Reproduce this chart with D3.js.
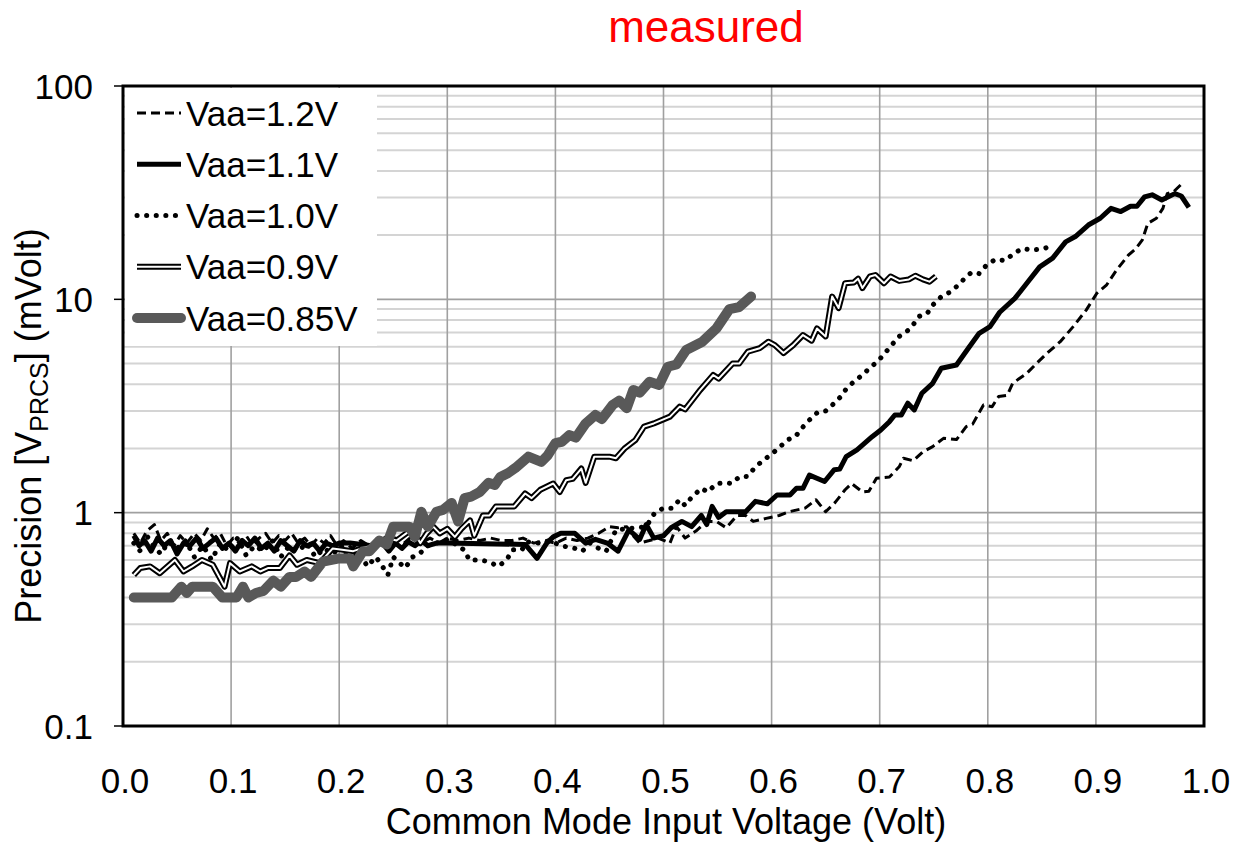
<!DOCTYPE html>
<html><head><meta charset="utf-8">
<script src="https://cdn.jsdelivr.net/npm/d3@7"></script>
<style>
body{margin:0;background:#fff;}
svg{display:block;font-family:"Liberation Sans",Arial,sans-serif;}
</style>
</head><body>
<svg id="chart" width="1236" height="844"></svg>
<script>
// ---------- data ----------
const chartTitle = "measured";
const xTitle = "Common Mode Input Voltage (Volt)";
const xTicks = [0,0.1,0.2,0.3,0.4,0.5,0.6,0.7,0.8,0.9,1.0];
const xTickLabels = ["0.0","0.1","0.2","0.3","0.4","0.5","0.6","0.7","0.8","0.9","1.0"];
const yTicks = [0.1,1,10,100];
const yTickLabels = ["0.1","1","10","100"];
const seriesNames = ["Vaa=1.2V","Vaa=1.1V","Vaa=1.0V","Vaa=0.9V","Vaa=0.85V"];

const vaa12 = [[0.010,0.80],[0.016,0.72],[0.022,0.82],[0.029,0.88],[0.035,0.74],[0.041,0.80],[0.047,0.70],[0.053,0.78],[0.059,0.72],[0.066,0.80],[0.072,0.74],[0.078,0.84],[0.084,0.76],[0.090,0.80],[0.096,0.70],[0.102,0.76],[0.108,0.72],[0.114,0.78],[0.120,0.70],[0.126,0.76],[0.132,0.80],[0.138,0.72],[0.144,0.78],[0.150,0.74],[0.156,0.80],[0.162,0.72],[0.168,0.76],[0.174,0.70],[0.180,0.76],[0.186,0.72],[0.192,0.78],[0.198,0.70],[0.204,0.74],[0.212,0.68],[0.220,0.74],[0.228,0.70],[0.236,0.76],[0.244,0.70],[0.252,0.76],[0.260,0.72],[0.268,0.78],[0.276,0.72],[0.284,0.76],[0.292,0.72],[0.300,0.76],[0.310,0.74],[0.320,0.76],[0.330,0.74],[0.340,0.76],[0.350,0.74],[0.360,0.74],[0.370,0.76],[0.380,0.72],[0.390,0.74],[0.400,0.72],[0.410,0.76],[0.420,0.74],[0.430,0.76],[0.440,0.80],[0.450,0.86],[0.458,0.85],[0.466,0.86],[0.472,0.78],[0.478,0.72],[0.487,0.74],[0.495,0.76],[0.506,0.72],[0.512,0.86],[0.520,0.76],[0.530,0.82],[0.540,0.91],[0.549,0.91],[0.558,0.85],[0.568,0.97],[0.576,0.97],[0.583,0.91],[0.595,0.94],[0.607,0.97],[0.616,1.01],[0.631,1.05],[0.641,1.15],[0.650,1.01],[0.659,1.12],[0.668,1.28],[0.674,1.37],[0.684,1.25],[0.690,1.26],[0.697,1.45],[0.709,1.47],[0.718,1.64],[0.722,1.80],[0.731,1.75],[0.740,1.93],[0.749,2.04],[0.759,2.23],[0.771,2.20],[0.780,2.53],[0.786,2.60],[0.796,3.20],[0.804,3.14],[0.810,3.50],[0.818,3.55],[0.823,4.04],[0.836,4.50],[0.845,5.00],[0.855,5.60],[0.867,6.33],[0.879,7.45],[0.891,8.90],[0.901,10.7],[0.910,11.7],[0.919,13.7],[0.930,16.1],[0.937,17.3],[0.943,19.0],[0.948,22.7],[0.956,24.0],[0.962,26.7],[0.966,31.3],[0.972,32.0],[0.980,35.0]];

const vaa11 = [[0.010,0.78],[0.015,0.70],[0.020,0.74],[0.026,0.66],[0.032,0.76],[0.038,0.70],[0.044,0.74],[0.050,0.64],[0.056,0.72],[0.062,0.70],[0.068,0.76],[0.074,0.68],[0.080,0.72],[0.086,0.76],[0.092,0.68],[0.098,0.72],[0.104,0.66],[0.110,0.74],[0.116,0.70],[0.122,0.76],[0.128,0.68],[0.134,0.72],[0.140,0.66],[0.146,0.74],[0.152,0.70],[0.158,0.66],[0.164,0.74],[0.170,0.70],[0.176,0.72],[0.182,0.66],[0.188,0.72],[0.194,0.70],[0.200,0.72],[0.210,0.72],[0.230,0.70],[0.240,0.72],[0.246,0.66],[0.252,0.72],[0.258,0.68],[0.264,0.73],[0.270,0.70],[0.276,0.74],[0.282,0.70],[0.290,0.72],[0.300,0.72],[0.372,0.71],[0.383,0.61],[0.392,0.72],[0.398,0.77],[0.405,0.80],[0.418,0.80],[0.428,0.72],[0.437,0.75],[0.448,0.72],[0.458,0.66],[0.468,0.83],[0.478,0.75],[0.484,0.88],[0.491,0.76],[0.500,0.78],[0.507,0.85],[0.517,0.91],[0.526,0.86],[0.535,0.97],[0.540,0.88],[0.545,1.07],[0.551,0.95],[0.558,1.01],[0.576,1.01],[0.585,1.13],[0.596,1.10],[0.605,1.21],[0.617,1.21],[0.623,1.30],[0.629,1.30],[0.635,1.50],[0.649,1.40],[0.658,1.59],[0.663,1.60],[0.669,1.83],[0.679,1.97],[0.693,2.27],[0.701,2.44],[0.709,2.67],[0.714,2.87],[0.720,2.87],[0.726,3.26],[0.732,3.03],[0.739,3.63],[0.749,4.04],[0.757,4.75],[0.771,4.92],[0.782,5.90],[0.792,6.93],[0.802,7.45],[0.811,8.70],[0.825,10.1],[0.835,11.7],[0.848,14.2],[0.860,15.6],[0.872,18.6],[0.881,19.7],[0.893,22.3],[0.904,24.0],[0.914,26.7],[0.923,25.8],[0.932,27.3],[0.938,27.3],[0.945,30.2],[0.952,30.9],[0.961,29.2],[0.973,31.3],[0.979,30.5],[0.986,27.0]];

const vaa10 = [[0.010,0.72],[0.016,0.66],[0.022,0.78],[0.028,0.70],[0.035,0.64],[0.042,0.73],[0.050,0.68],[0.058,0.74],[0.066,0.62],[0.074,0.70],[0.082,0.60],[0.090,0.72],[0.098,0.66],[0.106,0.76],[0.114,0.63],[0.122,0.70],[0.130,0.66],[0.138,0.74],[0.146,0.62],[0.154,0.70],[0.162,0.66],[0.170,0.72],[0.178,0.62],[0.186,0.68],[0.194,0.64],[0.202,0.70],[0.210,0.58],[0.218,0.66],[0.226,0.56],[0.234,0.62],[0.240,0.56],[0.245,0.51],[0.250,0.62],[0.261,0.55],[0.268,0.62],[0.274,0.64],[0.282,0.70],[0.290,0.72],[0.300,0.75],[0.310,0.70],[0.317,0.66],[0.320,0.60],[0.330,0.60],[0.338,0.59],[0.347,0.56],[0.355,0.60],[0.360,0.67],[0.369,0.67],[0.374,0.73],[0.385,0.72],[0.395,0.74],[0.405,0.70],[0.418,0.68],[0.425,0.66],[0.432,0.72],[0.440,0.68],[0.447,0.66],[0.456,0.83],[0.465,0.84],[0.475,0.85],[0.484,0.86],[0.492,1.00],[0.500,1.05],[0.508,1.05],[0.515,1.15],[0.520,1.08],[0.526,1.18],[0.535,1.30],[0.541,1.25],[0.549,1.37],[0.557,1.38],[0.563,1.37],[0.570,1.47],[0.578,1.48],[0.585,1.64],[0.593,1.77],[0.601,1.90],[0.608,2.04],[0.615,2.20],[0.622,2.27],[0.628,2.49],[0.635,2.72],[0.643,2.97],[0.650,3.00],[0.658,3.26],[0.664,3.50],[0.669,3.80],[0.676,4.11],[0.684,4.42],[0.692,4.83],[0.698,5.10],[0.705,5.60],[0.711,6.10],[0.718,6.70],[0.727,7.20],[0.731,7.60],[0.736,8.30],[0.744,8.60],[0.749,9.40],[0.757,10.3],[0.765,10.8],[0.773,11.7],[0.779,12.6],[0.785,13.4],[0.792,13.2],[0.799,14.5],[0.807,15.4],[0.816,15.2],[0.824,16.4],[0.832,17.3],[0.841,17.0],[0.852,17.3],[0.860,17.9]];

const vaa09 = [[0.010,0.51],[0.016,0.55],[0.025,0.56],[0.034,0.52],[0.048,0.60],[0.056,0.53],[0.064,0.56],[0.073,0.60],[0.083,0.57],[0.094,0.45],[0.099,0.58],[0.108,0.53],[0.119,0.56],[0.127,0.53],[0.134,0.55],[0.145,0.55],[0.154,0.63],[0.161,0.57],[0.170,0.60],[0.182,0.58],[0.194,0.68],[0.213,0.66],[0.225,0.69],[0.232,0.70],[0.244,0.76],[0.253,0.74],[0.262,0.80],[0.268,0.83],[0.275,0.72],[0.281,0.80],[0.287,0.86],[0.293,0.80],[0.300,0.84],[0.307,0.77],[0.313,0.84],[0.321,0.92],[0.325,0.78],[0.333,0.97],[0.339,0.97],[0.345,1.07],[0.362,1.07],[0.372,1.23],[0.378,1.17],[0.386,1.28],[0.398,1.37],[0.404,1.25],[0.410,1.42],[0.416,1.44],[0.424,1.61],[0.428,1.38],[0.436,1.83],[0.450,1.83],[0.456,1.80],[0.464,2.00],[0.474,2.19],[0.482,2.53],[0.491,2.62],[0.506,2.82],[0.515,3.14],[0.520,3.05],[0.534,3.76],[0.546,4.42],[0.551,4.25],[0.564,5.00],[0.570,5.00],[0.578,5.68],[0.589,5.90],[0.597,6.33],[0.603,6.10],[0.611,5.60],[0.620,6.10],[0.629,6.80],[0.637,6.40],[0.642,7.30],[0.650,6.70],[0.656,10.3],[0.662,9.10],[0.668,11.9],[0.676,12.0],[0.680,12.5],[0.684,11.3],[0.691,12.8],[0.696,13.0],[0.704,11.9],[0.710,12.8],[0.718,12.2],[0.727,12.4],[0.733,12.9],[0.740,12.4],[0.746,12.1],[0.752,12.8]];

const vaa085 = [[0.010,0.40],[0.045,0.40],[0.054,0.45],[0.059,0.42],[0.064,0.45],[0.083,0.45],[0.092,0.40],[0.105,0.40],[0.111,0.45],[0.116,0.40],[0.123,0.42],[0.130,0.43],[0.139,0.48],[0.146,0.45],[0.154,0.50],[0.160,0.50],[0.168,0.53],[0.174,0.50],[0.185,0.59],[0.200,0.61],[0.210,0.61],[0.213,0.56],[0.222,0.66],[0.228,0.66],[0.237,0.74],[0.244,0.71],[0.250,0.86],[0.265,0.86],[0.270,0.77],[0.276,1.01],[0.282,0.86],[0.290,1.01],[0.296,1.03],[0.304,1.11],[0.310,0.91],[0.316,1.17],[0.322,1.19],[0.330,1.25],[0.338,1.38],[0.344,1.35],[0.349,1.47],[0.356,1.53],[0.363,1.62],[0.375,1.83],[0.387,1.73],[0.393,1.86],[0.400,2.12],[0.406,2.15],[0.413,2.31],[0.419,2.25],[0.428,2.62],[0.437,2.87],[0.443,2.75],[0.453,3.20],[0.459,3.35],[0.466,3.09],[0.472,3.76],[0.478,3.65],[0.487,4.11],[0.496,3.97],[0.504,4.83],[0.512,4.95],[0.521,5.79],[0.536,6.33],[0.549,7.31],[0.561,9.00],[0.570,9.20],[0.581,10.3]];

// ---------- layout ----------
const svg = d3.select("#chart");
const L = 123, R = 1204, T = 86, B = 726;
const x = d3.scaleLinear().domain([0,1]).range([L,R]);
const y = d3.scaleLog().domain([0.1,100]).range([B,T]);

// minor horizontal gridlines
const minorVals = [];
[0.1,1,10].forEach(d => { for (let k=2;k<=9;k++) minorVals.push(d*k); });
svg.append("g").selectAll("line").data(minorVals).join("line")
  .attr("x1",L).attr("x2",R).attr("y1",d=>y(d)).attr("y2",d=>y(d))
  .attr("stroke","#d4d4d4").attr("stroke-width",2);
// major horizontal gridlines
svg.append("g").selectAll("line").data([1,10]).join("line")
  .attr("x1",L).attr("x2",R).attr("y1",d=>y(d)).attr("y2",d=>y(d))
  .attr("stroke","#a0a0a0").attr("stroke-width",1.6);
// vertical gridlines
svg.append("g").selectAll("line").data(xTicks.slice(1,-1)).join("line")
  .attr("x1",d=>x(d)).attr("x2",d=>x(d)).attr("y1",T).attr("y2",B)
  .attr("stroke","#a0a0a0").attr("stroke-width",1.6);

// series
const line = d3.line().x(d=>x(d[0])).y(d=>y(d[1]));
const styles = [
  {data:vaa12, layers:[{stroke:"#000", w:3, dash:"9,5"}]},
  {data:vaa11, layers:[{stroke:"#000", w:5}]},
  {data:vaa10, layers:[{stroke:"#000", w:5, dash:"0.1,9.5", cap:"round"}]},
  {data:vaa09, layers:[{stroke:"#000", w:6},{stroke:"#fff", w:2}]},
  {data:vaa085, layers:[{stroke:"#595959", w:10, cap:"round"}]}
];
const gS = svg.append("g");
styles.forEach(s => {
  s.layers.forEach(l => {
    gS.append("path").datum(s.data).attr("d",line)
      .attr("fill","none").attr("stroke",l.stroke).attr("stroke-width",l.w)
      .attr("stroke-dasharray",l.dash||null)
      .attr("stroke-linejoin","round").attr("stroke-linecap",l.cap||"butt");
  });
});

// legend
const lg = svg.append("g");
lg.append("rect").attr("x",L+2).attr("y",T+2).attr("width",252).attr("height",258).attr("fill","#fff");
const legendY = d3.scaleLinear().domain([0,4]).range([113,318]);
styles.forEach((s,i) => {
  const yy = legendY(i);
  s.layers.forEach(l => {
    lg.append("line").attr("x1",137).attr("x2",181).attr("y1",yy).attr("y2",yy)
      .attr("stroke",l.stroke).attr("stroke-width",l.w)
      .attr("stroke-dasharray",l.dash||null).attr("stroke-linecap",l.cap||"butt");
  });
  lg.append("text").attr("x",186).attr("y",yy).attr("dy","0.36em")
    .attr("font-size",35).attr("fill","#000").text(seriesNames[i]);
});

// frame
svg.append("rect").attr("x",L).attr("y",T).attr("width",R-L).attr("height",B-T)
  .attr("fill","none").attr("stroke","#000").attr("stroke-width",3);

// y axis ticks + labels
const gy = svg.append("g");
gy.selectAll("line").data(yTicks).join("line")
  .attr("x1",114).attr("x2",L).attr("y1",d=>y(d)).attr("y2",d=>y(d))
  .attr("stroke","#000").attr("stroke-width",1.5);
gy.selectAll("text").data(yTicks).join("text")
  .attr("x",93).attr("y",d=>y(d)).attr("dy","0.36em").attr("text-anchor","end")
  .attr("font-size",35).text((d,i)=>yTickLabels[i]);

// x axis labels
svg.append("g").selectAll("text").data(xTicks).join("text")
  .attr("x",d=>x(d)+2).attr("y",793).attr("text-anchor","middle")
  .attr("font-size",35).text((d,i)=>xTickLabels[i]);

// axis titles
svg.append("text").attr("x",666).attr("y",834).attr("text-anchor","middle")
  .attr("font-size",36).text(xTitle);
const yt = svg.append("text").attr("transform","translate(41,426) rotate(-90)")
  .attr("text-anchor","middle").attr("font-size",36);
yt.append("tspan").text("Precision [V");
yt.append("tspan").attr("dy",7).attr("font-size",25).text("PRCS");
yt.append("tspan").attr("dy",-7).text("] (mVolt)");

// title
svg.append("text").attr("x",706).attr("y",42).attr("text-anchor","middle")
  .attr("font-size",44).attr("fill","#ff0000").text(chartTitle);
</script>
</body></html>
